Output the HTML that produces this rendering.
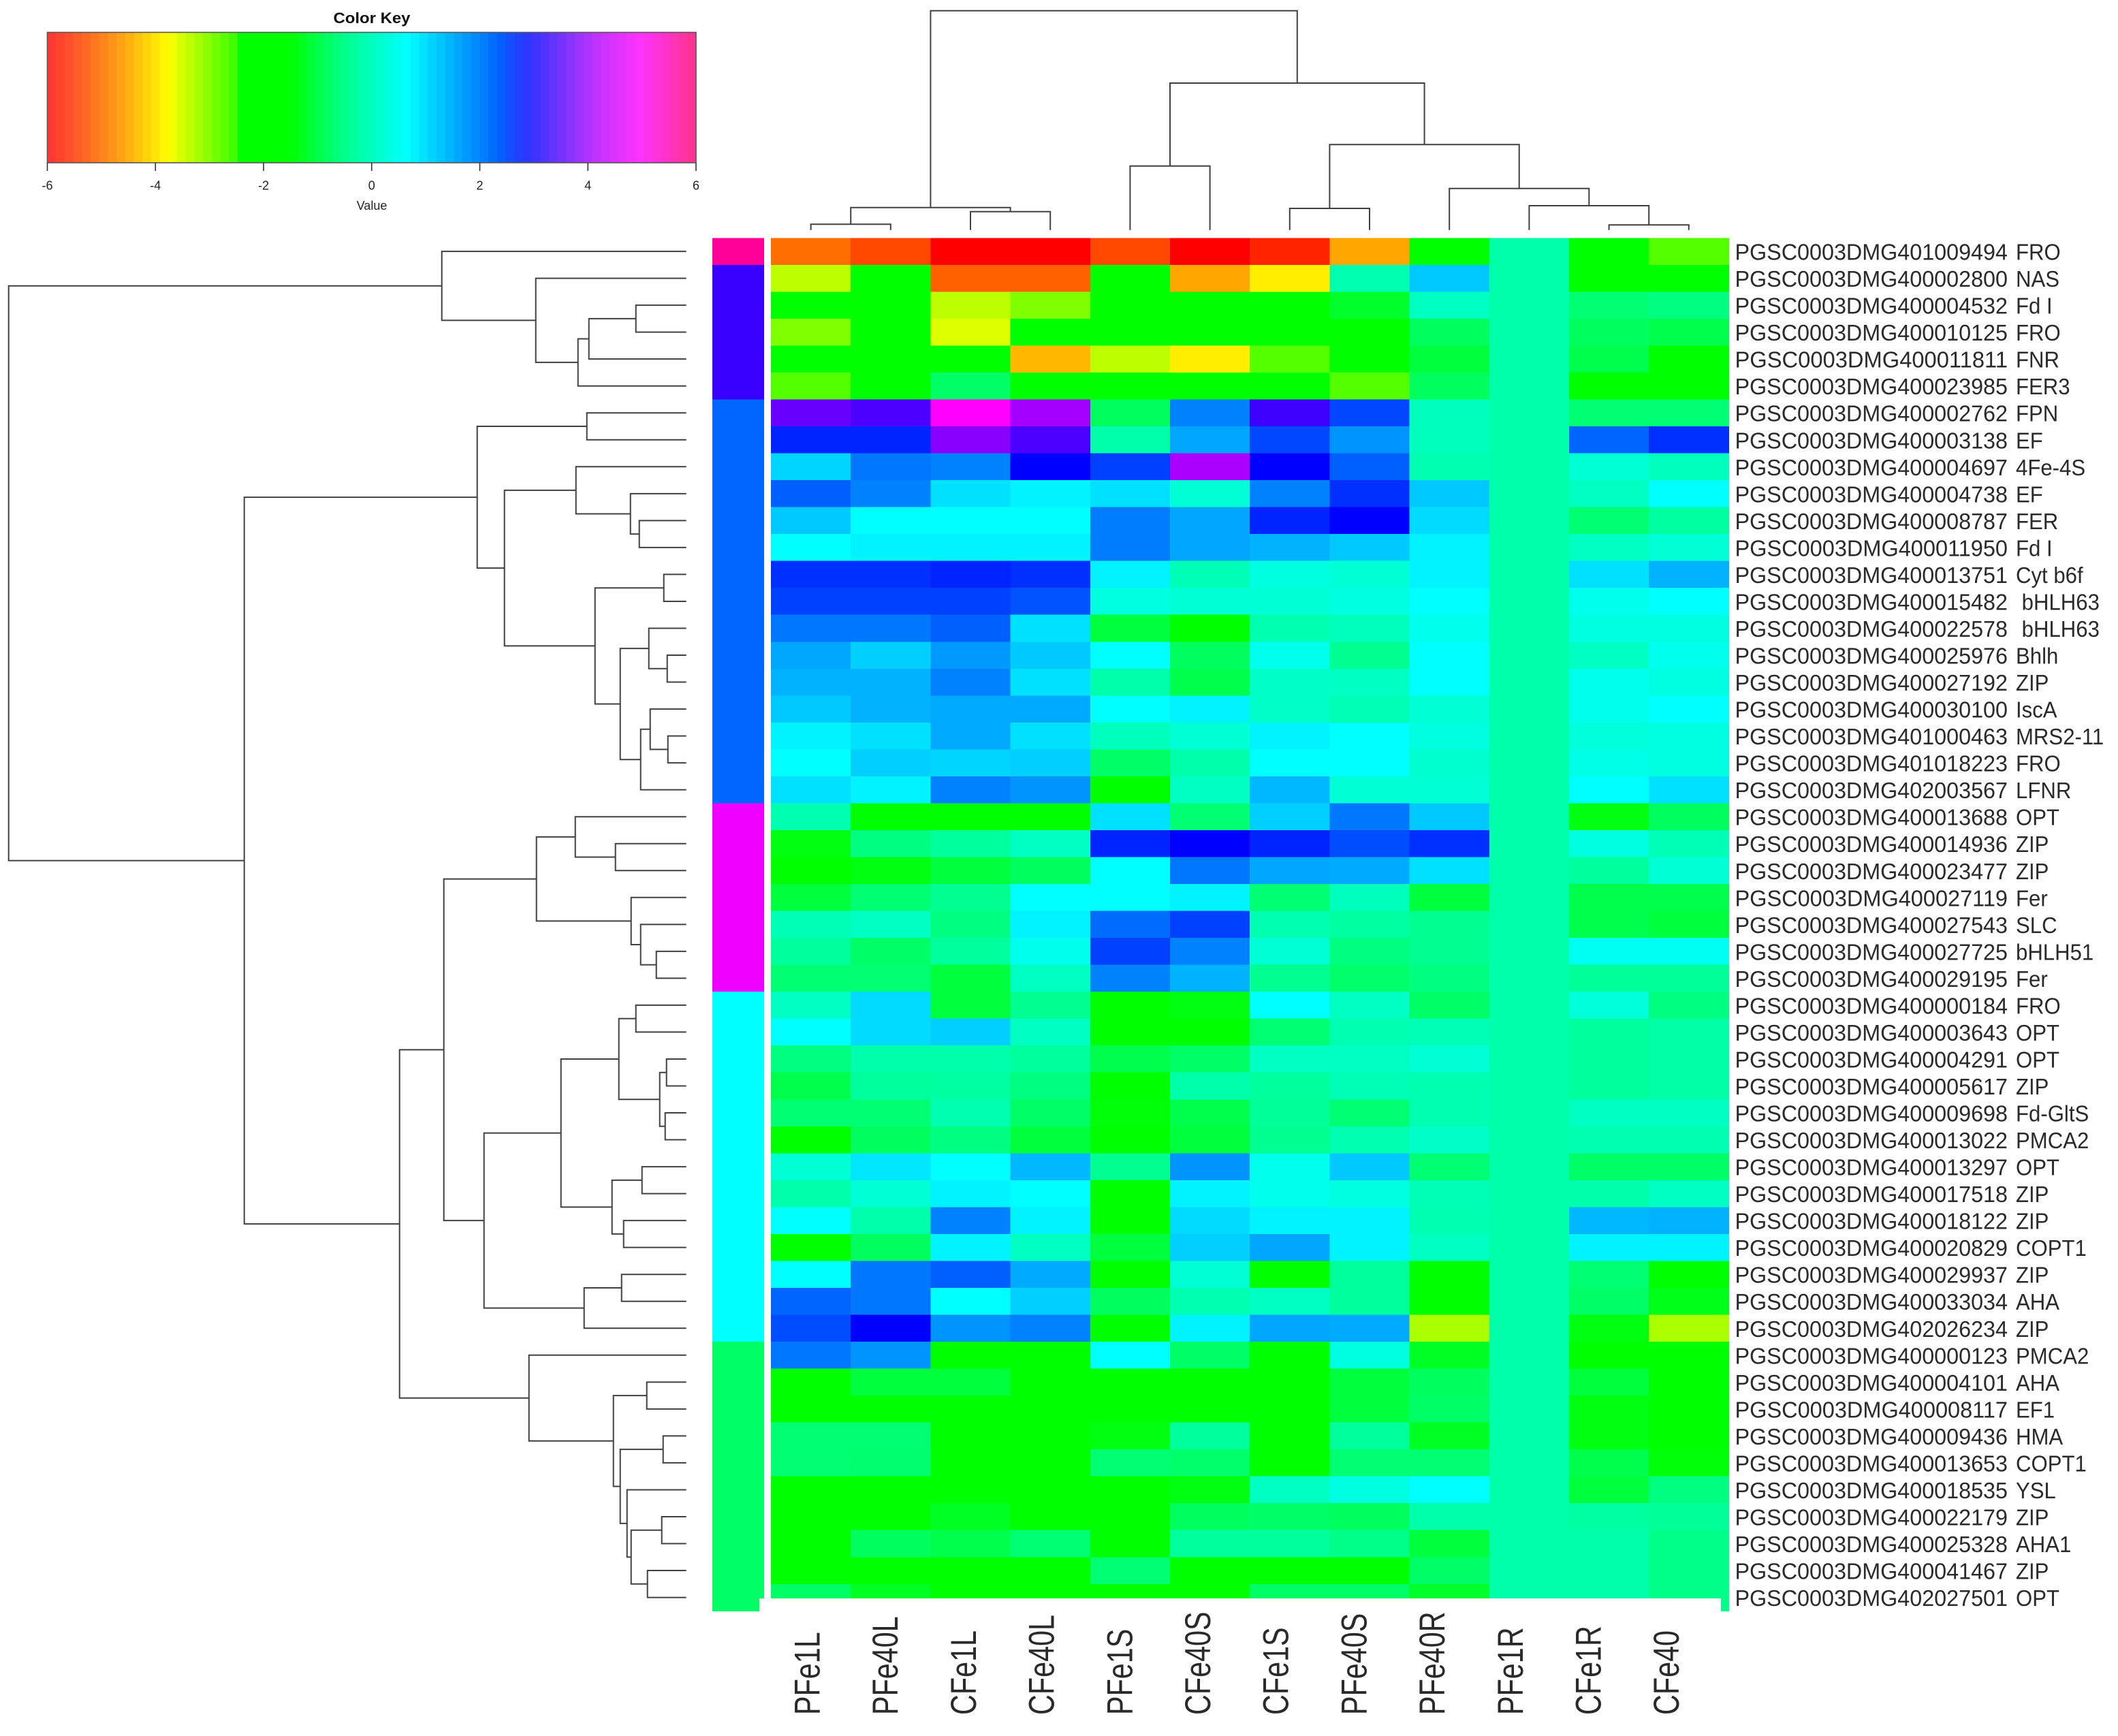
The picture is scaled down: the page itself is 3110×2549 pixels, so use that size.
<!DOCTYPE html>
<html lang="en">
<head>
<meta charset="utf-8">
<title>Heatmap of iron-related genes</title>
<style>
html,body{margin:0;padding:0;background:#fff;}
svg{display:block;}
text{font-family:"Liberation Sans",sans-serif;white-space:pre;}
</style>
</head>
<body>
<svg id="chart" xmlns="http://www.w3.org/2000/svg" width="3110" height="2549" viewBox="0 0 3110 2549">
<rect x="0" y="0" width="3110" height="2549" fill="#ffffff"></rect>
</svg>
<script>
const columnLabels = ["PFe1L","PFe40L","CFe1L","CFe40L","PFe1S","CFe40S","CFe1S","PFe40S","PFe40R","PFe1R","CFe1R","CFe40"];
const rowIds = [
"401009494","400002800","400004532","400010125","400011811","400023985","400002762","400003138","400004697","400004738",
"400008787","400011950","400013751","400015482","400022578","400025976","400027192","400030100","401000463","401018223",
"402003567","400013688","400014936","400023477","400027119","400027543","400027725","400029195","400000184","400003643",
"400004291","400005617","400009698","400013022","400013297","400017518","400018122","400020829","400029937","400033034",
"402026234","400000123","400004101","400008117","400009436","400013653","400018535","400022179","400025328","400041467","402027501"];
const rowGenes = [
"FRO","NAS","Fd I","FRO","FNR","FER3","FPN","EF","4Fe-4S","EF",
"FER","Fd I","Cyt b6f"," bHLH63"," bHLH63","Bhlh","ZIP","IscA","MRS2-11","FRO",
"LFNR","OPT","ZIP","ZIP","Fer","SLC","bHLH51","Fer","FRO","OPT",
"OPT","ZIP","Fd-GltS","PMCA2","OPT","ZIP","ZIP","COPT1","ZIP","AHA",
"ZIP","PMCA2","AHA","EF1","HMA","COPT1","YSL","ZIP","AHA1","ZIP","OPT"];
const heatValues = [
[-5.05,-5.38,-6,-6,-5.38,-6,-5.7,-4.57,-2,0,-2,-2.93],
[-3.47,-2,-5.17,-5.17,-2,-4.57,-3.95,0.05,1.15,0,-2,-2],
[-2,-2,-3.47,-3.15,-2,-2,-2,-1.5,0.2,0,-0.65,-0.5],
[-3.15,-2,-3.63,-2,-2,-2,-2,-2,-0.9,0,-0.9,-1.1],
[-2,-2,-2,-4.42,-3.47,-3.95,-2.93,-2,-1.3,0,-1.1,-2],
[-2.93,-2,-0.8,-2,-2,-2,-2,-2.93,-0.9,0,-2,-2],
[3.6,3.4,4.7,4.05,-0.9,1.75,3.3,2.25,0.15,0,-0.65,-0.65],
[2.55,2.55,3.85,3.4,0,1.45,2.25,1.6,0.15,0,2,2.45],
[1.05,1.85,1.75,2.85,2.3,4.1,2.85,2.05,0.05,0,0.35,0.15],
[2.05,1.75,0.95,0.8,0.95,0.35,1.75,2.45,1.15,0,0.2,0.7],
[1.15,0.7,0.7,0.7,1.8,1.45,2.55,2.85,1,0,-0.65,-0.1],
[0.7,0.8,0.8,0.8,1.8,1.45,1.35,1.15,0.8,0,0.2,0.35],
[2.45,2.45,2.55,2.45,0.8,0.1,0.45,0.35,0.8,0,0.95,1.35],
[2.3,2.3,2.3,2.15,0.45,0.35,0.35,0.45,0.7,0,0.55,0.7],
[1.85,1.85,2.05,0.95,-1.3,-2,0.05,0.15,0.55,0,0.45,0.45],
[1.45,1.1,1.55,1.15,0.7,-0.9,0.55,-0.3,0.7,0,0.2,0.55],
[1.35,1.35,1.75,0.95,0,-1.1,0.25,0.2,0.7,0,0.55,0.45],
[1.15,1.35,1.42,1.42,0.7,0.8,0.25,0.1,0.35,0,0.55,0.7],
[0.8,0.95,1.42,0.95,0.15,0.35,0.8,0.7,0.45,0,0.4,0.45],
[0.7,1.1,1.05,1.1,-0.8,0,0.7,0.7,0.3,0,0.5,0.45],
[0.95,0.8,1.75,1.6,-2,0.2,1.3,0.35,0.35,0,0.7,0.95],
[0.05,-2,-2,-2,0.95,-0.65,1.1,1.85,1.15,0,-1.8,-0.9],
[-1.8,-0.5,-0.15,0.2,2.55,2.85,2.55,2.2,2.45,0,0.45,0.1],
[-2,-1.8,-1.3,-0.9,0.7,1.85,1.45,1.42,0.95,0,-0.15,0.35],
[-1.3,-0.65,-0.3,0.7,0.7,0.8,-0.65,0.15,-1.3,0,-1.1,-1.1],
[0.1,0.2,-0.5,0.8,1.95,2.3,0.05,-0.1,-0.3,0,-1.1,-1.3],
[-0.15,-0.8,-0.15,0.55,2.3,1.75,0.35,-0.5,-0.3,0,0.6,0.6],
[-0.65,-0.65,-1.3,0.2,1.75,1.35,-0.3,-0.75,-0.5,0,-0.2,-0.2],
[0.2,1,-1.3,-0.3,-2,-1.8,0.7,0.2,-0.8,0,0.4,-0.5],
[0.7,1,1.1,0.2,-2,-2,-0.65,0.05,0.1,0,-0.15,-0.05],
[-0.5,0,0,-0.15,-1.1,-0.8,0.2,0.2,0.35,0,-0.15,-0.05],
[-1.1,-0.15,-0.1,-0.5,-2,0,-0.15,0.1,0.05,0,-0.15,-0.05],
[-0.65,-0.65,0.05,-0.8,-1.9,-1.1,-0.2,-0.65,0.05,0,0.2,0.2],
[-2,-0.9,-0.5,-1.3,-2,-1.3,-0.3,0.05,0.25,0,0.05,0.05],
[0.35,0.9,0.7,1.3,-0.3,1.6,0.55,1.15,-0.65,0,-0.8,-0.8],
[0,0.35,0.8,0.7,-2,0.8,0.55,0.45,0.1,0,0,0.2],
[0.7,0,1.75,0.8,-2,1,0.8,0.8,0.05,0,1.3,1.35],
[-2,-0.9,0.8,0.2,-1.3,1.1,1.45,0.8,0.2,0,0.8,0.8],
[0.7,1.85,2.05,1.42,-2,0.35,-2,-0.15,-2,0,-0.65,-2],
[2,1.85,0.7,1.1,-0.9,0.05,0.2,-0.15,-2,0,-0.8,-1.7],
[2.2,2.85,1.6,1.75,-2,0.8,1.45,1.42,-3.37,0,-1.8,-3.37],
[1.85,1.6,-2,-2,0.7,-0.8,-2,0.45,-1.6,0,-2,-2],
[-2,-1.3,-1.3,-2,-2,-2,-2,-1.3,-0.9,0,-1.3,-2],
[-2,-2,-2,-2,-2,-2,-2,-1.3,-0.8,0,-1.8,-2],
[-0.65,-0.65,-2,-2,-1.8,-0.15,-2,-0.15,-1.6,0,-1.8,-2],
[-0.65,-0.7,-2,-2,-0.65,-0.75,-2,-0.65,-0.65,0,-1.1,-1.9],
[-2,-2,-2,-2,-2,-1.8,0.2,0.45,0.7,0,-1.3,-0.5],
[-2,-2,-1.6,-2,-2,-0.9,-0.8,-0.9,0,0,-0.1,-0.2],
[-2,-0.9,-1.1,-0.65,-2,-0.15,-0.15,-0.4,-1.3,0,0,-0.4],
[-2,-2,-2,-2,-0.65,-2,-2,-2,-0.8,0,0,-0.4],
[-0.8,-1.6,-2,-2,-2,-2,-0.8,-0.8,-1.5,0,0,-0.4]];
const sideGroupColors = ["#ff0099","#3a00ff","#0066ff","#f000ff","#00ffff","#00ff66"];
const sideGroups = [0,1,1,1,1,1,2,2,2,2,2,2,2,2,2,2,2,2,2,2,2,3,3,3,3,3,3,3,4,4,4,4,4,4,4,4,4,4,4,4,4,5,5,5,5,5,5,5,5,5,5];
const keyTicks = [-6,-4,-2,0,2,4,6];
const hueValues = [-6,-3.8,-2.5,-2,-0.5,0,0.7,2.85,4.7,6];
const hueAngles = [0,60,120,120,150,160,180,240,300,330];
const keyHueValues = [-6,-3.76,-2.97,-2.55,-2.5,-1.5,-0.6,0,0.64,2.32,2.95,4.1,4.97,6];
const keyHueAngles = [0,60,90,105,120,120,150,165,180,216,240,280,300,335];
// Dendrograms: [mergeHeight, left, right]; integers are leaf indices
const columnTree = [322,[33,[8.4,0,1],[27,2,3]],[215.7,[94,4,5],[125.4,[31.7,6,7],[61,8,[35.7,9,[7.4,10,11]]]]]];
const rowTree = [995,
 [359,0,[221,1,[159,[143,[74,2,3],4],5]]],
 [649,
  [307,[146,6,7],
   [267,
    [162,8,[82,9,[69,10,11]]],
    [134,[33,12,13],[97,[55,14,[28,15,16]],[67,[53,17,[27,18,19]],20]]]
   ]
  ],
  [421,
   [356,
    [220,[163,21,[104,22,23]],[81,24,[67,25,[44,26,27]]]],
    [297,
     [184,
      [99,[74,28,29],[39,[29,30,31],[31,32,33]]],
      [109,[65,34,35],[92,36,37]]
     ],
     [150,[95,38,39],40]
    ]
   ],
   [231,41,[107,[58,42,43],[97,[34,44,45],[87,46,[81,[36,47,48],[57,49,50]]]]]]
  ]
 ]
];

const svg = document.getElementById('chart');
const NS = 'http://www.w3.org/2000/svg';
function make(tag, attrs, parent, text){
  const el = document.createElementNS(NS, tag);
  for (const k in attrs) el.setAttribute(k, attrs[k]);
  if (text !== undefined) el.textContent = text;
  (parent || svg).appendChild(el);
  return el;
}
// axis functions
const heatLeft = 1132, heatTop = 349.3, colW = 117.2, rowH = 39.53;
const xCol = i => heatLeft + i * colW;
const yRow = i => heatTop + i * rowH;
const xColCenter = i => xCol(i + 0.5);
const yRowCenter = i => yRow(i + 0.5);
const xLabelCol = i => 1184.5 + i * 114.7;
const xKey = v => 69.5 + (v + 6) * (1022 - 69.5) / 12;
const yTopTree = h => 337.7 - h;
const xLeftTree = h => 1007.7 - h;
function interp(v, xs, ys){
  if (v <= xs[0]) return ys[0];
  for (let i = 1; i < xs.length; i++){
    if (v <= xs[i]){
      const t = (v - xs[i-1]) / (xs[i] - xs[i-1]);
      return ys[i-1] + t * (ys[i] - ys[i-1]);
    }
  }
  return ys[ys.length-1];
}
const colorOf = v => 'hsl(' + interp(v, hueValues, hueAngles).toFixed(1) + ',100%,50%)';
function keyColor(v){
  let l = 50;
  if (v < -3.76) l = 50 + (-3.76 - v) * 4.5;
  if (v > 2.32) l = 50 + Math.min(10, (v - 2.32) * 16);
  return 'hsl(' + interp(v, keyHueValues, keyHueAngles).toFixed(1) + ',100%,' + l.toFixed(1) + '%)';
}

// Color key
const keyGroup = make('g', {});


const keyTitle = make('text', {x:546, y:34, 'text-anchor':'middle', 'font-size':22, 'font-weight':'bold', fill:'#111', textLength:113, lengthAdjust:'spacingAndGlyphs'}, keyGroup, 'Color Key');


const keyBandCount = 75;
for (let b = 0; b < keyBandCount; b++){
  const v0 = -6 + 12 * b / keyBandCount, v1 = -6 + 12 * (b + 1) / keyBandCount;
  const band = make('rect', {x:xKey(v0), y:48, width:xKey(v1) - xKey(v0) + 0.5, height:191, fill:keyColor((v0 + v1) / 2), 'shape-rendering':'crispEdges'}, keyGroup);
  
  
}
const keyFrame = make('rect', {x:69.5, y:47.5, width:952.5, height:191.5, fill:'none', stroke:'#555', 'stroke-width':1.6}, keyGroup);


keyTicks.forEach(t => {
  const tick = make('line', {x1:xKey(t), x2:xKey(t), y1:239, y2:251, stroke:'#333', 'stroke-width':1.6}, keyGroup);
  
  
  const lab = make('text', {x:xKey(t), y:278.5, 'text-anchor':'middle', 'font-size':18, fill:'#222'}, keyGroup, String(t));
  
  
});
const keyAxis = make('text', {x:546, y:308, 'text-anchor':'middle', 'font-size':18, fill:'#222'}, keyGroup, 'Value');



// Dendrograms
function drawTree(node, leafPos, heightPos, vertical, group, name){
  if (typeof node === 'number') return {pos: leafPos(node), c: heightPos(0)};
  const a = drawTree(node[1], leafPos, heightPos, vertical, group, name);
  const b = drawTree(node[2], leafPos, heightPos, vertical, group, name);
  const c = heightPos(node[0]);
  const d = vertical
    ? 'M' + a.pos + ' ' + a.c + 'V' + c + 'H' + b.pos + 'V' + b.c
    : 'M' + a.c + ' ' + a.pos + 'H' + c + 'V' + b.pos + 'H' + b.c;
  const p = make('path', {d:d, fill:'none', stroke:'#404040', 'stroke-width':2}, group);
  
  
  return {pos: (a.pos + b.pos) / 2, c: c};
}
const topDendro = make('g', {});


drawTree(columnTree, xColCenter, yTopTree, true, topDendro, 'column-dendrogram-branch');
const leftDendro = make('g', {});


drawTree(rowTree, yRowCenter, xLeftTree, false, leftDendro, 'row-dendrogram-branch');

// Side colour bar
const sideBar = make('g', {});


sideGroups.forEach((g, r) => {
  const s = make('rect', {x:1046, y:yRow(r), width:76, height:rowH + 0.5, fill:sideGroupColors[g], 'shape-rendering':'crispEdges'}, sideBar);
  
  
});

// Heatmap
const heat = make('g', {});


heatValues.forEach((row, r) => {
  row.forEach((v, c) => {
    const cell = make('rect', {x:xCol(c), y:yRow(r), width:colW + 0.5, height:rowH + 0.5, fill:colorOf(v), 'shape-rendering':'crispEdges'}, heat);
    
    
  });
});

// White panel behind the column labels
const mask = make('rect', {x:1115, y:2347, width:1412, height:202, fill:'#ffffff'});



// Row labels: locus id plus gene name
rowIds.forEach((id, r) => {
  const idLab = make('text', {x:2547.5, y:yRowCenter(r) + 12.5, 'font-size':33.5, fill:'#2a2a2a', textLength:400.5, lengthAdjust:'spacingAndGlyphs'}, svg, 'PGSC0003DMG' + id);
  
  
  const geneLab = make('text', {transform:'translate(2960,' + (yRowCenter(r) + 12.5) + ') scale(0.93,1)', 'font-size':33.5, fill:'#2a2a2a'}, svg, rowGenes[r]);
  
  
});
// Column labels
columnLabels.forEach((t, c) => {
  const lab = make('text', {transform:'translate(' + (xLabelCol(c) + 19) + ',2518) rotate(-90) scale(0.78,1)', 'font-size':53, fill:'#2a2a2a'}, svg, t);
  
  
});
</script>
</body>
</html>
